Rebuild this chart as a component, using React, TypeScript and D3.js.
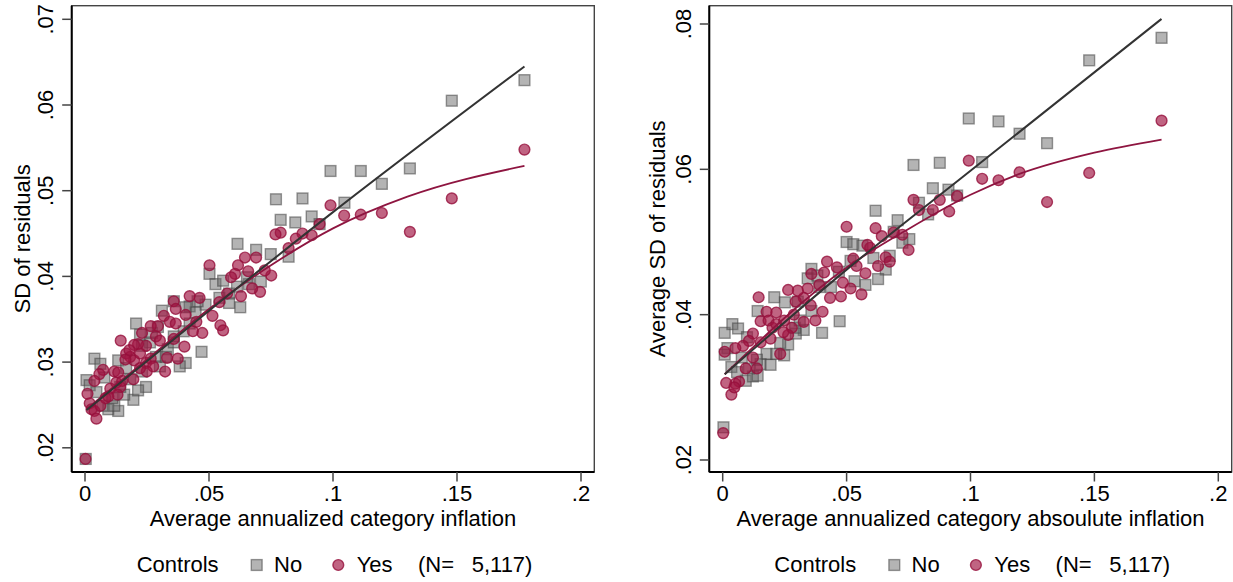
import React from "react";
import * as d3 from "d3";

type P = [number, number];

// ---------- Data ----------
const xTicks = [0, 0.05, 0.1, 0.15, 0.2];
const xTickLabels = ["0", ".05", ".1", ".15", ".2"];
const leftYTicks = [0.02, 0.03, 0.04, 0.05, 0.06, 0.07];
const leftYTickLabels = [".02", ".03", ".04", ".05", ".06", ".07"];
const rightYTicks = [0.02, 0.04, 0.06, 0.08];
const rightYTickLabels = [".02", ".04", ".06", ".08"];

const legendLabels = ["Controls", "No", "Yes", "(N=", "5,117)"];

const leftNo: P[] = [
  [0.1772, 0.0629], [0.1479, 0.0605], [0.131, 0.0526], [0.1197, 0.0508], [0.1112, 0.0523],
  [0.099, 0.0523], [0.1046, 0.0486], [0.0877, 0.0491], [0.077, 0.049], [0.0789, 0.0466],
  [0.0848, 0.0463], [0.0914, 0.047], [0.0946, 0.0461], [0.0615, 0.0438], [0.069, 0.0431],
  [0.0749, 0.0426], [0.0821, 0.0423], [0.0502, 0.0403], [0.0526, 0.0391], [0.0557, 0.0395],
  [0.0626, 0.0364], [0.0709, 0.0394], [0.0661, 0.0391], [0.0581, 0.0369], [0.0542, 0.0375],
  [0.0486, 0.0367], [0.0422, 0.0365], [0.047, 0.0312], [0.0406, 0.0299], [0.0382, 0.0295],
  [0.0358, 0.0371], [0.031, 0.036], [0.0206, 0.0345], [0.0222, 0.0332], [0.0038, 0.0304],
  [0.0062, 0.0298], [0.0006, 0.0279], [0.0019, 0.0273], [0.0046, 0.0265], [0.0094, 0.0245],
  [0.0134, 0.0243], [0.0118, 0.0249], [0.0195, 0.0256], [0.0246, 0.0271], [0.0214, 0.0267],
  [0.0134, 0.0302], [0.0262, 0.0323], [0.0286, 0.0306], [0.0334, 0.0315], [0.0358, 0.0323],
  [0.0398, 0.0336], [0.0422, 0.0345], [0.0446, 0.0358], [0.0406, 0.0364], [0.0158, 0.0262],
  [0.0182, 0.028], [0.023, 0.0289], [0.0078, 0.0282], [0.0166, 0.0293], [0.0302, 0.0295],
  [0.0326, 0.0306], [0.0003, 0.0187], [0.0142, 0.0271], [0.011, 0.0258], [0.007, 0.0249],
  [0.0581, 0.038], [0.0613, 0.0388], [0.0653, 0.0399], [0.0454, 0.0371], [0.027, 0.0334],
  [0.023, 0.0319], [0.0358, 0.033], [0.0294, 0.0341],
];

const leftYes: P[] = [
  [0.1772, 0.0548], [0.1479, 0.0491], [0.131, 0.0452], [0.1197, 0.0474], [0.1112, 0.0472],
  [0.1045, 0.0471], [0.099, 0.0483], [0.0946, 0.0461], [0.0914, 0.0448], [0.0877, 0.045],
  [0.085, 0.0444], [0.0821, 0.0433], [0.0789, 0.0451], [0.0768, 0.0449], [0.0751, 0.0401],
  [0.0706, 0.0382], [0.0725, 0.0407], [0.069, 0.0422], [0.0645, 0.0422], [0.0658, 0.0406],
  [0.0617, 0.0413], [0.0605, 0.0403], [0.0589, 0.0399], [0.0629, 0.0377], [0.0674, 0.0386],
  [0.0573, 0.038], [0.0542, 0.037], [0.0502, 0.0413], [0.0462, 0.0375], [0.0422, 0.0377],
  [0.0514, 0.0354], [0.0546, 0.0343], [0.0557, 0.0337], [0.0473, 0.0334], [0.0435, 0.0336],
  [0.0449, 0.0347], [0.0358, 0.0371], [0.0366, 0.0362], [0.0406, 0.0355], [0.0318, 0.0354],
  [0.0342, 0.0347], [0.0366, 0.0345], [0.0358, 0.0327], [0.0401, 0.0318], [0.0374, 0.0304],
  [0.0331, 0.0305], [0.0323, 0.0289], [0.0294, 0.0342], [0.0265, 0.0342], [0.0286, 0.033],
  [0.0302, 0.0325], [0.0246, 0.0319], [0.0214, 0.0321], [0.0198, 0.032], [0.0144, 0.0325],
  [0.0166, 0.031], [0.0182, 0.0306], [0.0198, 0.0302], [0.0163, 0.0303], [0.0222, 0.031],
  [0.0246, 0.0299], [0.0265, 0.0304], [0.0275, 0.0295], [0.0249, 0.0289], [0.0222, 0.0293],
  [0.0195, 0.028], [0.0118, 0.0289], [0.0073, 0.0291], [0.0058, 0.0286], [0.0038, 0.0278],
  [0.001, 0.0263], [0.0019, 0.0252], [0.0026, 0.0245], [0.0038, 0.0243], [0.0046, 0.0234],
  [0.0062, 0.0249], [0.0083, 0.0258], [0.0102, 0.0269], [0.0126, 0.0276], [0.0142, 0.0271],
  [0.0131, 0.0262], [0.015, 0.0278], [0.0094, 0.026], [0.0002, 0.0187], [0.0179, 0.0314],
  [0.023, 0.0334], [0.0134, 0.0288],
];

const rightNo: P[] = [
  [0.1771, 0.0781], [0.1479, 0.075], [0.1309, 0.0636], [0.1198, 0.0649], [0.1113, 0.0666],
  [0.0993, 0.067], [0.1047, 0.061], [0.0876, 0.0609], [0.077, 0.0606], [0.0792, 0.0554],
  [0.0848, 0.0574], [0.0911, 0.0572], [0.0946, 0.0564], [0.0829, 0.0538], [0.0617, 0.0543],
  [0.0706, 0.053], [0.069, 0.0514], [0.0753, 0.0504], [0.0725, 0.0499], [0.05, 0.05],
  [0.0527, 0.0497], [0.0564, 0.0495], [0.0608, 0.0478], [0.0674, 0.0481], [0.0658, 0.0462],
  [0.0627, 0.0449], [0.0576, 0.0441], [0.0532, 0.0446], [0.0472, 0.0391], [0.0401, 0.0375],
  [0.0358, 0.0463], [0.0343, 0.045], [0.039, 0.0438], [0.0358, 0.0405], [0.0327, 0.0379],
  [0.0295, 0.0374], [0.0264, 0.0359], [0.0208, 0.0424], [0.0141, 0.0405], [0.0251, 0.0417],
  [0.0008, 0.0375], [0.0039, 0.0387], [0.0062, 0.0381], [0.0019, 0.0354], [0.0008, 0.0345],
  [0.0035, 0.0328], [0.0058, 0.0321], [0.0093, 0.0309], [0.0122, 0.0315], [0.0141, 0.0316],
  [0.0153, 0.0332], [0.0193, 0.0331], [0.0177, 0.0346], [0.0216, 0.0346], [0.0248, 0.0344],
  [0.0232, 0.0361], [0.0098, 0.0369], [0.0003, 0.0245], [0.0292, 0.0382], [0.0311, 0.0392],
  [0.0437, 0.0438], [0.0469, 0.0459], [0.0303, 0.0418], [0.0382, 0.0454], [0.0516, 0.0474],
  [0.0138, 0.0338], [0.0106, 0.0326], [0.0077, 0.0341],
];

const rightYes: P[] = [
  [0.1771, 0.0667], [0.1479, 0.0595], [0.1309, 0.0555], [0.1198, 0.0596], [0.1113, 0.0585],
  [0.1047, 0.0587], [0.0993, 0.0612], [0.0946, 0.0563], [0.0914, 0.0542], [0.0876, 0.0558],
  [0.0848, 0.0544], [0.0792, 0.0544], [0.077, 0.0558], [0.075, 0.0489], [0.0725, 0.051],
  [0.069, 0.0513], [0.0642, 0.0508], [0.0617, 0.0519], [0.0595, 0.0492], [0.0584, 0.0496],
  [0.05, 0.0521], [0.0527, 0.0477], [0.054, 0.0467], [0.0576, 0.0457], [0.0627, 0.0467],
  [0.0658, 0.0479], [0.0674, 0.0473], [0.0421, 0.0473], [0.0461, 0.0465], [0.0409, 0.0458],
  [0.0358, 0.0456], [0.0485, 0.0444], [0.0516, 0.0436], [0.056, 0.0428], [0.0477, 0.0425],
  [0.0433, 0.0423], [0.039, 0.0441], [0.0343, 0.0436], [0.0327, 0.0423], [0.0303, 0.0433],
  [0.0264, 0.0434], [0.0295, 0.0418], [0.0355, 0.0413], [0.0403, 0.0404], [0.0374, 0.0392],
  [0.0327, 0.039], [0.0279, 0.0382], [0.0264, 0.0372], [0.0245, 0.0376], [0.0216, 0.0403],
  [0.0177, 0.0404], [0.0153, 0.0391], [0.0145, 0.0424], [0.0185, 0.0392], [0.0201, 0.0382],
  [0.0216, 0.0387], [0.0193, 0.0367], [0.0153, 0.0362], [0.0122, 0.0374], [0.0106, 0.0364],
  [0.0082, 0.0357], [0.0051, 0.0354], [0.0008, 0.0349], [0.0122, 0.0341], [0.0138, 0.0326],
  [0.0093, 0.0326], [0.0066, 0.0308], [0.0051, 0.0305], [0.0014, 0.0306], [0.0035, 0.029],
  [0.0047, 0.03], [0.0002, 0.0237], [0.0248, 0.0392], [0.0287, 0.04], [0.0232, 0.0346],
];

// Fitted curves
const leftFitNo: P[] = [[0.0006, 0.0244], [0.05, 0.036], [0.1, 0.0475], [0.1772, 0.0645]];
const leftFitYes: P[] = [
  [0.0006, 0.0245], [0.03, 0.0315], [0.05, 0.0362], [0.075, 0.0413], [0.1, 0.0456],
  [0.13, 0.0493], [0.1772, 0.0529],
];
const rightFitNo: P[] = [[0.0008, 0.0318], [0.05, 0.0462], [0.1, 0.0598], [0.1771, 0.0807]];
const rightFitYes: P[] = [
  [0.0008, 0.0318], [0.05, 0.0465], [0.075, 0.0518], [0.1, 0.0565], [0.12, 0.0594],
  [0.15, 0.0623], [0.1771, 0.0641],
];

// ---------- Styles ----------
const FONT = "'Liberation Sans', Arial, Helvetica, sans-serif";
const FS = 22;
const GRAY_FILL = "rgba(105,105,105,0.5)";
const GRAY_STROKE = "rgba(70,70,70,0.55)";
const RED_FILL = "rgba(160,20,66,0.66)";
const RED_STROKE = "rgba(150,16,60,0.8)";
const RED_LINE = "#8e1540";
const DARK_LINE = "#333333";

type PanelProps = {
  frame: { x0: number; x1: number; y0: number; y1: number };
  xRange: [number, number];
  yDomain: [number, number];
  yRange: [number, number];
  yTicks: number[];
  yTickLabels: string[];
  yTitle: string;
  yTitleX: number;
  xTitle: string;
  no: P[];
  yes: P[];
  fitNo: P[];
  fitYes: P[];
};

const SQ = 10.8;
const R = 5.4;

function Square({ cx, cy }: { cx: number; cy: number }) {
  return (
    <rect x={cx - SQ / 2} y={cy - SQ / 2} width={SQ} height={SQ} fill={GRAY_FILL} stroke={GRAY_STROKE} strokeWidth={1.4} />
  );
}
function Circle({ cx, cy }: { cx: number; cy: number }) {
  return <circle cx={cx} cy={cy} r={R} fill={RED_FILL} stroke={RED_STROKE} strokeWidth={1.4} />;
}

function Panel(p: PanelProps) {
  const x = d3.scaleLinear().domain([0, 0.2]).range(p.xRange);
  const y = d3.scaleLinear().domain(p.yDomain).range(p.yRange);
  const line = d3
    .line<P>()
    .x((d) => x(d[0]))
    .y((d) => y(d[1]))
    .curve(d3.curveMonotoneX);
  const { x0, x1, y0, y1 } = p.frame;
  const tickLen = 9.5;
  const cxFrame = (x0 + x1) / 2;
  const cyFrame = (y0 + y1) / 2;
  const legY = 571.7;
  const legMY = 565;
  return (
    <g fontFamily={FONT} fontSize={FS} fill="#000">
      <rect x={x0} y={y0} width={x1 - x0} height={y1 - y0} fill="#fff" stroke="#444" strokeWidth={1.4} />
      {p.no.map((d, i) => (
        <Square key={"n" + i} cx={x(d[0])} cy={y(d[1])} />
      ))}
      {p.yes.map((d, i) => (
        <Circle key={"y" + i} cx={x(d[0])} cy={y(d[1])} />
      ))}
      <path d={line(p.fitYes) || ""} fill="none" stroke={RED_LINE} strokeWidth={1.8} />
      <path d={line(p.fitNo) || ""} fill="none" stroke={DARK_LINE} strokeWidth={2} />
      <line x1={x0} x2={x0} y1={y0} y2={y1} stroke="#000" strokeWidth={2} />
      <line x1={x0} x2={x1} y1={y1} y2={y1} stroke="#000" strokeWidth={2} />
      {xTicks.map((t, i) => (
        <g key={"xt" + i}>
          <line x1={x(t)} x2={x(t)} y1={y1} y2={y1 + tickLen} stroke="#444" strokeWidth={1.5} />
          <text x={x(t)} y={501} textAnchor="middle">
            {xTickLabels[i]}
          </text>
        </g>
      ))}
      {p.yTicks.map((t, i) => (
        <g key={"yt" + i}>
          <line x1={x0 - tickLen} x2={x0} y1={y(t)} y2={y(t)} stroke="#444" strokeWidth={1.5} />
          <text transform={`translate(${x0 - 18.6},${y(t)}) rotate(-90)`} textAnchor="middle">
            {p.yTickLabels[i]}
          </text>
        </g>
      ))}
      <text x={cxFrame} y={526} textAnchor="middle">
        {p.xTitle}
      </text>
      <text transform={`translate(${p.yTitleX},${cyFrame}) rotate(-90)`} textAnchor="middle">
        {p.yTitle}
      </text>
      <text x={x0 + 65} y={legY}>{legendLabels[0]}</text>
      <Square cx={x0 + 185} cy={legMY} />
      <text x={x0 + 202.3} y={legY}>{legendLabels[1]}</text>
      <Circle cx={x0 + 266.6} cy={legMY} />
      <text x={x0 + 285} y={legY}>{legendLabels[2]}</text>
      <text x={x0 + 346.3} y={legY}>{legendLabels[3]}</text>
      <text x={x0 + 400} y={legY}>{legendLabels[4]}</text>
    </g>
  );
}

export default function App() {
  return (
    <svg
      width={1233}
      height={582}
      style={{ position: "absolute", left: 0, top: 0, display: "block", background: "#fff" }}
    >
      <rect x={0} y={0} width={1233} height={582} fill="#fff" />
      <Panel
        frame={{ x0: 71.7, x1: 594.3, y0: 5.7, y1: 472 }}
        xRange={[85, 581]}
        yDomain={[0.02, 0.07]}
        yRange={[447.8, 19.3]}
        yTicks={leftYTicks}
        yTickLabels={leftYTickLabels}
        yTitle="SD of residuals"
        yTitleX={29.5}
        xTitle="Average annualized category inflation"
        no={leftNo}
        yes={leftYes}
        fitNo={leftFitNo}
        fitYes={leftFitYes}
      />
      <Panel
        frame={{ x0: 709.3, x1: 1231.7, y0: 5.7, y1: 472 }}
        xRange={[722.7, 1218.3]}
        yDomain={[0.02, 0.08]}
        yRange={[460, 24]}
        yTicks={rightYTicks}
        yTickLabels={rightYTickLabels}
        yTitle="Average SD of residuals"
        yTitleX={665}
        xTitle="Average annualized category absoulute inflation"
        no={rightNo}
        yes={rightYes}
        fitNo={rightFitNo}
        fitYes={rightFitYes}
      />
    </svg>
  );
}
